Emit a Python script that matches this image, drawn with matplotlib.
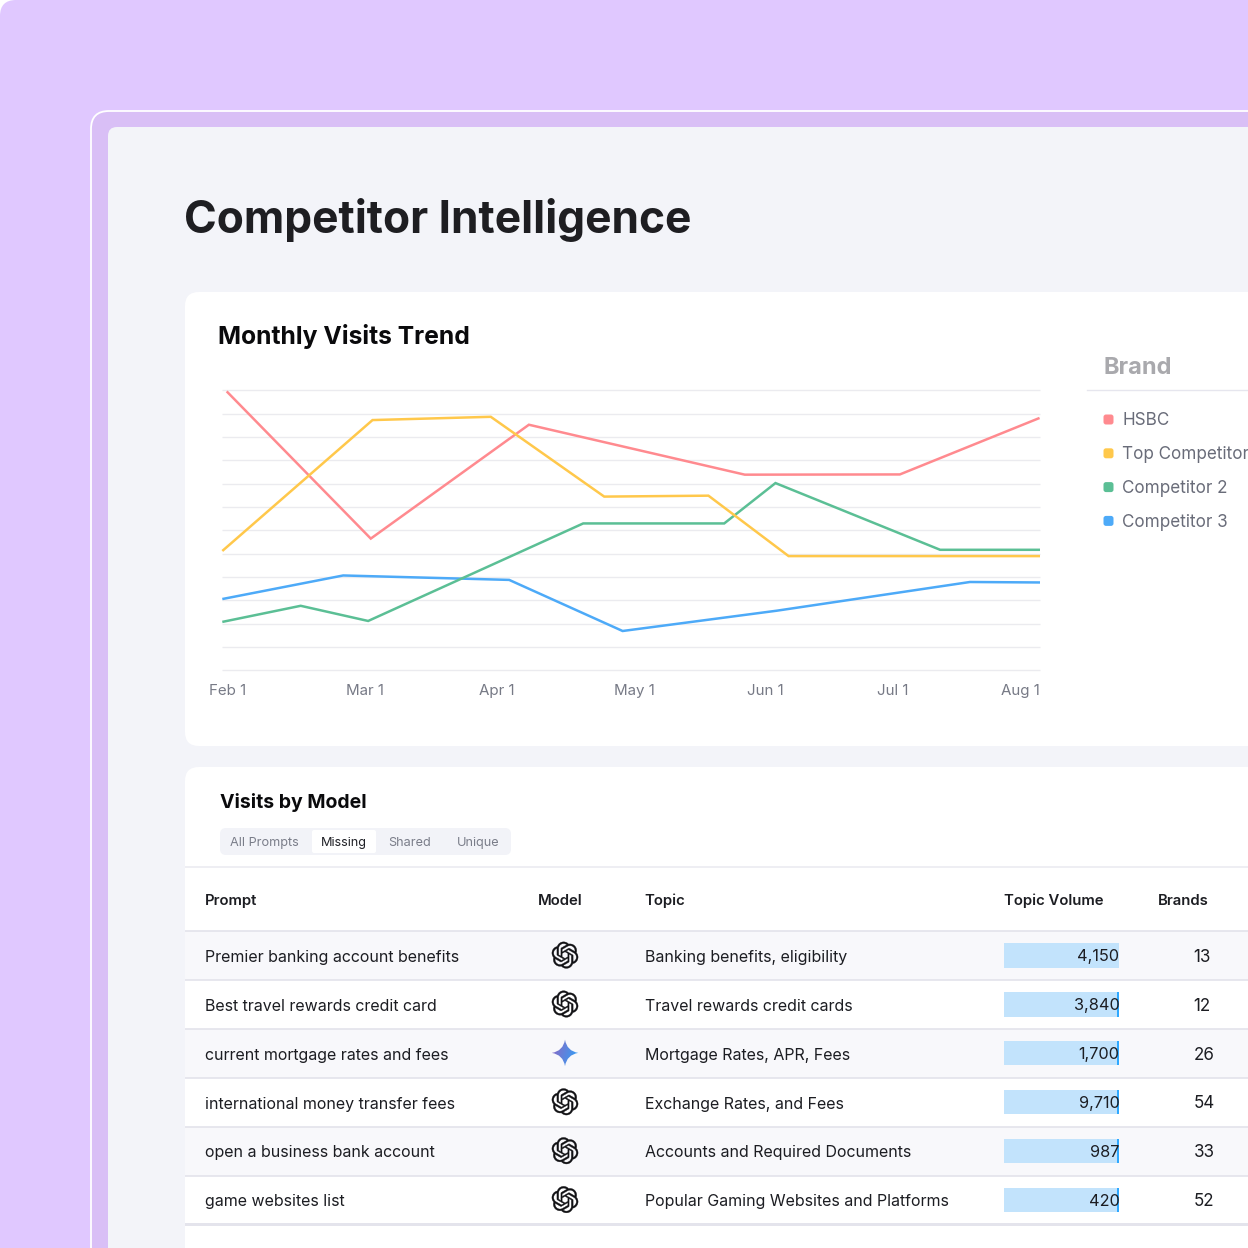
import re
import numpy as np
import matplotlib
matplotlib.use("Agg")
import matplotlib.pyplot as plt
from matplotlib.patches import FancyBboxPatch, Rectangle, PathPatch
from matplotlib.path import Path
from matplotlib.transforms import Affine2D

plt.rcParams['font.family'] = ['Inter', 'DejaVu Sans']

# ---------- data ----------
page_title = "Competitor Intelligence"
chart_title = "Monthly Visits Trend"
table_title = "Visits by Model"
legend_title = "Brand"
brands = ["HSBC", "Top Competitor", "Competitor 2", "Competitor 3"]
brand_colors = ["#FF8A8F", "#FFC84B", "#5BBF95", "#4DAAF8"]

tick_days = [-0.1, 31.3, 61.3, 92.7, 122.6, 151.7, 181]
tick_labels = ["Feb 1", "Mar 1", "Apr 1", "May 1", "Jun 1", "Jul 1", "Aug 1"]
grid_values = list(range(0, 1300, 100))

hsbc_x = [-0.3, 32.6, 68.7, 118, 153.4, 185.3]
hsbc_y = [1195, 564, 1052, 838, 839, 1081]
top_x = [-1.3, 33, 60, 85.9, 109.7, 128, 185.4]
top_y = [511, 1072, 1086, 744, 748, 489, 489]
comp2_x = [-1.3, 16.6, 32, 81.1, 113.3, 125, 162.6, 185.4]
comp2_y = [207, 276, 211, 629, 629, 802, 516, 516]
comp3_x = [-1.3, 26.3, 64.2, 90.1, 125.3, 169.4, 185.4]
comp3_y = [305, 406, 387, 168, 255, 378, 376]

tabs = ["All Prompts", "Missing", "Shared", "Unique"]
headers = ["Prompt", "Model", "Topic", "Topic Volume", "Brands"]
prompts = ["Premier banking account benefits", "Best travel rewards credit card",
           "current mortgage rates and fees", "international money transfer fees",
           "open a business bank account", "game websites list"]
models = ["chatgpt", "chatgpt", "gemini", "chatgpt", "chatgpt", "chatgpt"]
topics = ["Banking benefits, eligibility", "Travel rewards credit cards",
          "Mortgage Rates, APR, Fees", "Exchange Rates, and Fees",
          "Accounts and Required Documents", "Popular Gaming Websites and Platforms"]
volumes = [4150, 3840, 1700, 9710, 987, 420]
volume_fill = [1, 1, 1, 1, 1, 1]
brand_counts = [13, 12, 26, 54, 33, 52]

OPENAI_D = ("M22.2819 9.8211a5.9847 5.9847 0 0 0-.5157-4.9108 6.0462 6.0462 0 0 0-6.5098-2.9"
            "A6.0651 6.0651 0 0 0 4.9807 4.1818a5.9847 5.9847 0 0 0-3.9977 2.9 6.0462 6.0462 0 0 0 .7427 7.0966"
            " 5.98 5.98 0 0 0 .511 4.9107 6.051 6.051 0 0 0 6.5146 2.9001A5.9847 5.9847 0 0 0 13.2599 24"
            "a6.0557 6.0557 0 0 0 5.7718-4.2058 5.9894 5.9894 0 0 0 3.9977-2.9001 6.0557 6.0557 0 0 0-.7475-7.0729z"
            "m-9.022 12.6081a4.4755 4.4755 0 0 1-2.8764-1.0408l.1419-.0804 4.7783-2.7582a.7948.7948 0 0 0 .3927-.6813"
            "v-6.7369l2.02 1.1686a.071.071 0 0 1 .038.052v5.5826a4.504 4.504 0 0 1-4.4945 4.4944z"
            "m-9.6607-4.1254a4.4708 4.4708 0 0 1-.5346-3.0137l.142.0852 4.783 2.7582a.7712.7712 0 0 0 .7806 0"
            "l5.8428-3.3685v2.3324a.0804.0804 0 0 1-.0332.0615L9.74 19.9502a4.4992 4.4992 0 0 1-6.1408-1.6464z"
            "M2.3408 7.8956a4.485 4.485 0 0 1 2.3655-1.9728V11.6a.7664.7664 0 0 0 .3879.6765l5.8144 3.3543"
            "-2.0201 1.1685a.0757.0757 0 0 1-.071 0l-4.8303-2.7865A4.504 4.504 0 0 1 2.3408 7.872z"
            "m16.5963 3.8558L13.1038 8.364 15.1192 7.2a.0757.0757 0 0 1 .071 0l4.8303 2.7913"
            "a4.4944 4.4944 0 0 1-.6765 8.1042v-5.6772a.79.79 0 0 0-.407-.667z"
            "m2.0107-3.0231l-.142-.0852-4.7735-2.7818a.7759.7759 0 0 0-.7854 0L9.409 9.2297V6.8974"
            "a.0662.0662 0 0 1 .0284-.0615l4.8303-2.7866a4.4992 4.4992 0 0 1 6.6802 4.66z"
            "M8.3065 12.863l-2.02-1.1638a.0804.0804 0 0 1-.038-.0567V6.0742a4.4992 4.4992 0 0 1 7.3757-3.4537"
            "l-.142.0805L8.704 5.459a.7948.7948 0 0 0-.3927.6813z"
            "m1.0976-2.3654l2.602-1.4998 2.6069 1.4998v2.9994l-2.5974 1.4997-2.6067-1.4997Z")


def arc_points(p0, rx, ry, large, sweep, p1, n=16):
    # circular-arc flattening (all icon arcs have rx == ry)
    r = max(rx, ry)
    d = p1 - p0
    q = np.hypot(*d)
    if q == 0:
        return []
    r = max(r, q / 2)
    h = np.sqrt(max(r * r - q * q / 4, 0))
    m = (p0 + p1) / 2
    perp = np.array([-d[1], d[0]]) / q
    sign = 1 if large != sweep else -1
    c = m + sign * h * perp
    a0 = np.arctan2(*(p0 - c)[::-1])
    a1 = np.arctan2(*(p1 - c)[::-1])
    if sweep and a1 < a0:
        a1 += 2 * np.pi
    if not sweep and a1 > a0:
        a1 -= 2 * np.pi
    ts = np.linspace(a0, a1, n + 1)[1:]
    return [c + r * np.array([np.cos(t), np.sin(t)]) for t in ts]


def svg_path(d):
    toks = re.findall(r"[MmLlHhVvAaZz]|-?(?:\d*\.\d+|\d+)", d)
    verts, codes = [], []
    i = 0
    cur = np.zeros(2)
    start = np.zeros(2)
    cmd = None

    def num():
        nonlocal i
        v = float(toks[i])
        i += 1
        return v

    while i < len(toks):
        if re.match(r"[A-Za-z]", toks[i]):
            cmd = toks[i]
            i += 1
            if cmd in "Zz":
                verts.append(tuple(start))
                codes.append(Path.CLOSEPOLY)
                cur = start.copy()
                continue
        rel = cmd.islower()
        c = cmd.upper()
        if c == "M":
            p = np.array([num(), num()])
            cur = cur + p if rel else p
            start = cur.copy()
            verts.append(tuple(cur))
            codes.append(Path.MOVETO)
            cmd = "l" if rel else "L"
        elif c == "L":
            p = np.array([num(), num()])
            cur = cur + p if rel else p
            verts.append(tuple(cur))
            codes.append(Path.LINETO)
        elif c == "H":
            v = num()
            cur = np.array([cur[0] + v if rel else v, cur[1]])
            verts.append(tuple(cur))
            codes.append(Path.LINETO)
        elif c == "V":
            v = num()
            cur = np.array([cur[0], cur[1] + v if rel else v])
            verts.append(tuple(cur))
            codes.append(Path.LINETO)
        elif c == "A":
            rx, ry, _rot, la, sw = num(), num(), num(), num(), num()
            p = np.array([num(), num()])
            end = cur + p if rel else p
            for q in arc_points(cur, rx, ry, int(la), int(sw), end):
                verts.append(tuple(q))
                codes.append(Path.LINETO)
            cur = end
    return Path(verts, codes)


OPENAI_PATH = svg_path(OPENAI_D)

# ---------- figure + page chrome (pixel canvas) ----------
W, H = 1248, 1248
fig = plt.figure(figsize=(W / 100, H / 100), dpi=100, facecolor="white")
pg = fig.add_axes([0, 0, 1, 1])
pg.set_xlim(0, W)
pg.set_ylim(H, 0)
pg.axis("off")


def px(v):
    return v * 0.72


def rbox(x, y, w, h, r, fc, ec="none", lw=0, z=1):
    p = FancyBboxPatch((x, y), w, h, boxstyle=f"round,pad=0,rounding_size={r}",
                       fc=fc, ec=ec, lw=lw, zorder=z)
    pg.add_patch(p)
    return p


rbox(0, 0, W + 40, H + 40, 16, "#E0C8FF", z=0)
rbox(91, 111, W, H, 18, "#D9BFF6", ec="white", lw=1.3, z=1)
rbox(108, 127, W, H, 9, "#F3F4F9", z=2)
rbox(185, 292, W, 454, 14, "white", z=3)
rbox(185, 767, W, H, 14, "white", z=3)

pg.text(183.5, 220.5, page_title, fontsize=px(44.3), fontweight="bold",
        color="#1E1E22", va="center", ha="left", zorder=5)
pg.text(218.5, 336.5, chart_title, fontsize=px(24.7), fontweight="bold",
        color="#0A0A0C", va="center", ha="left", zorder=5)

# ---------- legend ----------
pg.text(1103.5, 368, legend_title, fontsize=px(23.6), fontweight="bold",
        color="#A9A9AD", va="center", ha="left", zorder=5)
pg.plot([1087, W], [389.5, 389.5], color="#E6E6EE", lw=1, zorder=5)
for i, (b, c) in enumerate(zip(brands, brand_colors)):
    yy = 419.5 + 33.8 * i
    rbox(1103.5, yy - 5, 10, 10, 2.5, c, z=5)
    pg.text(1122, yy + 1.4, b, fontsize=px(17.1), color="#696C79",
            va="center", ha="left", zorder=5)

# ---------- line chart ----------
ax = fig.add_axes([222 / W, 1 - 670.2 / H, (1040 - 222) / W, 280 / H])
ax.patch.set_alpha(0)
ax.set_zorder(3)
for s in ax.spines.values():
    s.set_visible(False)
ax.set_xlim(-1.37, 185.4)
ax.set_ylim(0, 1200)
ax.set_yticks(grid_values)
ax.set_yticklabels([])
ax.set_xticks(tick_days)
ax.set_xticklabels(tick_labels, fontsize=px(15.1), color="#777A86")
ax.tick_params(length=0, pad=10.2)
ax.grid(axis="y", color="#EBEBEF", lw=1.0)
for gl in ax.get_ygridlines():
    gl.set_clip_on(False)
    gl.set_solid_capstyle("butt")
ax.set_axisbelow(True)
series = [(hsbc_x, hsbc_y), (top_x, top_y), (comp2_x, comp2_y), (comp3_x, comp3_y)]
for k in (3, 2, 0, 1):
    xs, ys = series[k]
    ax.plot(xs, ys, color=brand_colors[k], lw=1.8, solid_joinstyle="miter",
            solid_capstyle="butt", clip_on=False)

# ---------- table ----------
pg.text(220, 803, table_title, fontsize=px(19.5), fontweight="bold",
        color="#0A0A0C", va="center", ha="left", zorder=5)

rbox(220, 828, 291, 27, 6, "#F2F3F8", z=4)
rbox(312, 830, 64, 23, 2, "white", z=5)
tab_x = [264.5, 344, 410, 478]
for t, xx, active in zip(tabs, tab_x, [0, 1, 0, 0]):
    pg.text(xx, 842.7, t, fontsize=px(12.7), color="#202127" if active else "#7A7D89",
            va="center", ha="center", zorder=6)

pg.add_patch(Rectangle((185, 866), W, 2, fc="#EEEEF3", ec="none", zorder=4))

col_x = [205, 538, 644.5, 1004.5, 1158]
for h, xx in zip(headers, col_x):
    pg.text(xx, 901, h, fontsize=px(14.9), fontweight="semibold", color="#1C1D22",
            va="center", ha="left", zorder=5)

row_top = 931
row_h = 48.9
for i in range(len(prompts)):
    top = row_top + i * row_h
    mid = top + 24.5
    if i % 2 == 0:
        pg.add_patch(Rectangle((185, top), W, row_h, fc="#F8F8FB", ec="none", zorder=4))
    pg.plot([185, W], [top, top], color="#E3E3EB", lw=1.2, zorder=5, solid_capstyle="butt")
    pg.text(204.7, mid + 1.8, prompts[i], fontsize=px(15.98), color="#1C1D22",
            va="center", ha="left", zorder=6)
    pg.text(645, mid + 1.8, topics[i], fontsize=px(15.98), color="#1C1D22",
            va="center", ha="left", zorder=6)
pg.add_patch(Rectangle((185, row_top + 6 * row_h - 1), W, 3, fc="#E4E4EC", ec="none", zorder=5))

# topic-volume bars, with their labels above them
bar_ax = fig.add_axes([1004 / W, 1 - (931 + 6 * row_h) / H, 115 / W, 6 * row_h / H])
bar_ax.set_zorder(4)
bar_ax.patch.set_alpha(0)
bar_ax.axis("off")
bar_ax.set_xlim(0, 1)
bar_ax.set_ylim(len(volumes) - 0.5, -0.5)
bar_ax.barh(range(len(volumes)), volume_fill, height=0.5, color="#C2E3FC")
for i in range(1, len(volumes)):
    bar_ax.barh(i, 0.016, left=0.984, height=0.5, color="#2EA8FF")
for i, v in enumerate(volumes):
    bar_ax.text(1.004, i + 0.03, f"{v:,}", fontsize=px(16.3), color="#1C1D22",
                va="center", ha="right", zorder=7, clip_on=False)

for i, b in enumerate(brand_counts):
    mid = row_top + i * row_h + 24.5
    pg.text(1193.5, mid + 1.8, str(b), fontsize=px(17), color="#1C1D22",
            va="center", ha="left", zorder=7)


# ---------- model icons ----------
def chatgpt_icon(cx, cy, size=26.5):
    s = size / 24
    t = Affine2D().translate(-12, -12).scale(s, s).translate(cx, cy)
    pg.add_patch(PathPatch(OPENAI_PATH, fc="#111114", ec="#111114", lw=0.25, zorder=7,
                           transform=t + pg.transData))


def gemini_icon(cx, cy, r=13.2):
    k = 0.14 * r
    verts = [(cx, cy - r), (cx + k, cy - k), (cx + r, cy), (cx + k, cy + k), (cx, cy + r),
             (cx - k, cy + k), (cx - r, cy), (cx - k, cy - k), (cx, cy - r)]
    codes = [Path.MOVETO] + [Path.CURVE3] * 8
    clip = PathPatch(Path(verts, codes), fc="none", ec="none", transform=pg.transData)
    pg.add_patch(clip)
    gx, gy = np.meshgrid(np.linspace(0, 1, 40), np.linspace(0, 1, 40))
    g = np.clip(gx * 0.85 + gy * 0.25, 0, 1)[..., None]
    c0 = np.array([0.56, 0.40, 0.76])
    c1 = np.array([0.20, 0.62, 0.96])
    im = pg.imshow(c0 * (1 - g) + c1 * g, extent=(cx - r, cx + r, cy + r, cy - r),
                   aspect="auto", zorder=7, interpolation="bilinear")
    im.set_clip_path(clip)


for i, m in enumerate(models):
    mid = row_top + i * row_h + 24.1
    if m == "chatgpt":
        chatgpt_icon(565, mid)
    else:
        gemini_icon(565, mid)
pg.set_xlim(0, W)
pg.set_ylim(H, 0)

fig.savefig("out.png", dpi=100, facecolor="white")
